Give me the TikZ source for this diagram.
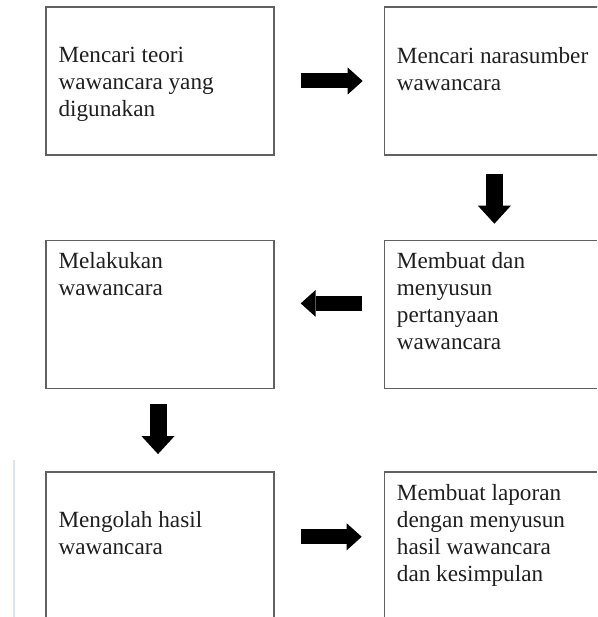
\documentclass[tikz,border=0pt]{standalone}
\usepackage{fontspec}
\setmainfont{Liberation Serif}
\usetikzlibrary{arrows.meta,positioning,calc}
\definecolor{faintblue}{RGB}{218,228,242}
\tikzset{
	box/.style={draw=black!62, line width=1.4pt, minimum width=228pt,
		minimum height=148pt, inner sep=0pt},
	boxtext/.style={anchor=base west, align=left, inner sep=0pt,
		text=black!88, font=\fontsize{23.2}{27}\selectfont},
	harrow/.style={line width=15pt, line cap=butt,
		-{Triangle[length=15pt, width=27pt, line width=0pt]}},
	varrow/.style={line width=17pt, line cap=butt,
		-{Triangle[length=18pt, width=33pt, line width=0pt]}}
}
\begin{document}
\begin{tikzpicture}[x=1pt, y=-1pt,
	node distance=84pt and 109pt]
	\clip (0,0) rectangle (597,617);
	
	%% ── boxes ──────────────────────────────────────────────
	\node[box] (b1) at (160,81) {};
	\node[box, right=of b1] (b2) {};
	\node[box, below=of b2] (b4) {};
	\node[box, left=of b4] (b3) {};
	\node[box, below=82pt of b3] (b5) {};
	\node[box, right=of b5] (b6) {};
	
	%% ── texts (anchored at the last line's baseline) ───────
	\node[boxtext] (t1) at ($(b1.north west)+(13,110)$)
	{Mencari teori\\wawancara yang\\digunakan};
	\node[boxtext] (t2) at ($(b2.north west)+(13,84)$)
	{Mencari narasumber\\wawancara};
	\node[boxtext] (t3) at ($(b3.north west)+(13,56)$)
	{Melakukan\\wawancara};
	\node[boxtext] (t4) at ($(b4.north west)+(13,110)$)
	{Membuat dan\\menyusun\\pertanyaan\\wawancara};
	\node[boxtext] (t5) at ($(b5.north west)+(13,83)$)
	{Mengolah hasil\\wawancara};
	\node[boxtext] (t6) at ($(b6.north west)+(13,110)$)
	{Membuat laporan\\dengan menyusun\\hasil wawancara\\dan kesimpulan};
	
	%% ── arrows ─────────────────────────────────────────────
	\draw[harrow, shorten <=26pt, shorten >=21pt] (b1.east) -- (b2.west);
	\draw[varrow, shorten <=18pt, shorten >=16pt]
	([xshift=-4pt]b2.south) -- ([xshift=-4pt]b4.north);
	\draw[harrow, shorten <=22pt, shorten >=26pt]
	([yshift=11pt]b4.west) -- ([yshift=11pt]b3.east);
	\draw[varrow, shorten <=15pt, shorten >=17pt]
	([xshift=-2pt]b3.south) -- ([xshift=-2pt]b5.north);
	\draw[harrow, shorten <=26pt, shorten >=22pt]
	([yshift=9pt]b5.east) -- ([yshift=9pt]b6.west);
	
	%% faint margin line
	\draw[faintblue, line width=1.5pt] (14,460) -- (14,617);
\end{tikzpicture}
\end{document}
